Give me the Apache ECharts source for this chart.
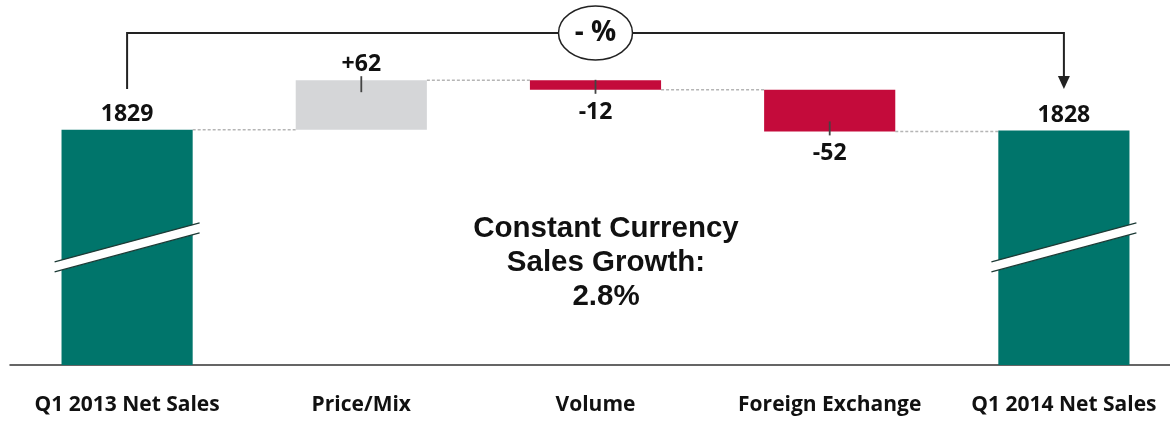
<!DOCTYPE html>
<html><head><meta charset="utf-8">
<script src="https://cdn.jsdelivr.net/npm/echarts@6/dist/echarts.min.js"></script>
<style>html,body{margin:0;padding:0;background:#fff}#c{width:1170px;height:421px}</style>
</head><body><div id="c"></div>
<script>
// ---- data ----
const categories = ['Q1 2013 Net Sales', 'Price/Mix', 'Volume', 'Foreign Exchange', 'Q1 2014 Net Sales'];
const values = [1829, 62, -12, -52, 1828];
const isTotal = [true, false, false, false, true];
const valueLabels = ['1829', '+62', '-12', '-52', '1828'];
const bracketLabel = '- %';
const centerLines = ['Constant Currency', 'Sales Growth:', '2.8%'];

// ---- styles ----
const TEAL = '#00756B', GRAY = '#D5D6D8', RED = '#C40B3B';
const Y_MIN = 1535, Y_MAX = 1900, BREAK_AT = 1682;
const FONT = '"Open Sans", Lato, sans-serif';

// waterfall layout derived from data
const bases = [], heights = [], levels = [];
let running = 0;
values.forEach((v, i) => {
  if (isTotal[i]) { bases.push(Y_MIN); heights.push(v - Y_MIN); running = v; }
  else if (v >= 0) { bases.push(running); heights.push(v); running += v; }
  else { bases.push(running + v); heights.push(-v); running += v; }
  levels.push(running);
});

const colors = values.map((v, i) => isTotal[i] ? TEAL : (v >= 0 ? GRAY : RED));

const chart = echarts.init(document.getElementById('c'), null, {renderer: 'canvas'});
const GRID_TOP = 73;

chart.setOption({
  animation: false,
  grid: {left: 10, width: 1171, top: GRID_TOP, bottom: 56, containLabel: false, outerBoundsMode: 'none'},
  xAxis: {
    type: 'category', data: categories,
    axisLine: {lineStyle: {color: '#333', width: 1.5}},
    axisTick: {show: false},
    axisLabel: {color: '#111', fontFamily: FONT, fontWeight: 'bold', fontSize: 21, margin: 30, interval: 0}
  },
  yAxis: {type: 'value', min: Y_MIN, max: Y_MAX, show: false, splitLine: {show: false}},
  series: [
    {
      type: 'bar', stack: 'w', barWidth: '56%', silent: true,
      itemStyle: {color: 'transparent'},
      data: bases
    },
    {
      type: 'bar', stack: 'w', barWidth: '56%',
      data: heights.map((h, i) => ({
        value: h,
        itemStyle: {color: colors[i]},
        label: {
          show: true,
          formatter: valueLabels[i],
          position: (values[i] < 0) ? 'bottom' : 'top',
          distance: (values[i] < 0) ? 11 : 4,
          color: '#111', fontFamily: FONT, fontWeight: 'bold', fontSize: 23
        }
      }))
    },
    // dotted connectors between bars
    {
      type: 'custom', silent: true, z: 1,
      data: levels.slice(0, -1).map((lv, i) => [i, lv]),
      renderItem: function (params, api) {
        const i = api.value(0), lv = api.value(1);
        const p0 = api.coord([i, lv]), p1 = api.coord([i + 1, lv]);
        const half = api.size([1, 0])[0] * 0.28;
        return {type: 'line', shape: {x1: p0[0] + half, y1: p0[1], x2: p1[0] - half, y2: p1[1]},
          style: {stroke: '#b5b5b5', lineWidth: 1.5, lineDash: [3, 2]}};
      }
    },
    // small leader ticks at the labelled edge of change bars
    {
      type: 'custom', silent: true, z: 5,
      data: values.map((v, i) => isTotal[i] ? null : [i, v >= 0 ? bases[i] + heights[i] : bases[i], v >= 0 ? 1 : -1]).filter(d => d),
      renderItem: function (params, api) {
        const p = api.coord([api.value(0), api.value(1)]);
        const up = api.value(2) > 0;
        const a = up ? -4 : 4, b = up ? 12 : -10;
        return {type: 'line', shape: {x1: p[0], y1: p[1] + a, x2: p[0], y2: p[1] + b},
          style: {stroke: '#444', lineWidth: 1.8}};
      }
    },
    // axis-break marks on the total bars
    {
      type: 'custom', silent: true, z: 6, clip: false,
      data: values.map((v, i) => isTotal[i] ? [i, BREAK_AT] : null).filter(d => d),
      renderItem: function (params, api) {
        const c = api.coord([api.value(0), api.value(1)]);
        const dx = 72.5, dy = 19.5, g = 5;
        return {type: 'group', children: [
          {type: 'polygon', shape: {points: [[c[0] - dx, c[1] + dy - g], [c[0] + dx, c[1] - dy - g], [c[0] + dx, c[1] - dy + g], [c[0] - dx, c[1] + dy + g]]},
            style: {fill: '#fff'}},
          {type: 'line', shape: {x1: c[0] - dx, y1: c[1] + dy - g, x2: c[0] + dx, y2: c[1] - dy - g}, style: {stroke: '#1d3b36', lineWidth: 1.3}},
          {type: 'line', shape: {x1: c[0] - dx, y1: c[1] + dy + g, x2: c[0] + dx, y2: c[1] - dy + g}, style: {stroke: '#1d3b36', lineWidth: 1.3}}
        ]};
      }
    },
    // bracket from first total to last total with ellipse label
    {
      type: 'custom', silent: true, z: 7, clip: false,
      data: [[0, categories.length - 1]],
      renderItem: function (params, api) {
        const x0 = api.coord([api.value(0), Y_MAX])[0];
        const x1 = api.coord([api.value(1), Y_MAX])[0];
        const xm = (x0 + x1) / 2;
        const yTop = GRID_TOP - 40, yEnd = GRID_TOP + 16;
        return {type: 'group', children: [
          {type: 'polyline', shape: {points: [[x0, yEnd], [x0, yTop], [x1, yTop], [x1, yEnd - 12]]},
            style: {stroke: '#222', lineWidth: 2, fill: null}},
          {type: 'polygon', shape: {points: [[x1 - 6, yEnd - 13], [x1 + 6, yEnd - 13], [x1, yEnd]]}, style: {fill: '#222'}},
          {type: 'ellipse', shape: {cx: xm, cy: yTop, rx: 37, ry: 27}, style: {fill: '#fff', stroke: '#222', lineWidth: 1.5}},
          {type: 'text', x: xm, y: yTop, style: {text: bracketLabel, fill: '#111', font: 'bold 28px ' + FONT, align: 'center', verticalAlign: 'middle'}}
        ]};
      }
    }
  ],
  graphic: [{
    type: 'text', x: 606, y: 263, silent: true,
    style: {text: centerLines.join('\n'), fill: '#111', font: 'bold 29.5px "Liberation Sans", Arial, sans-serif',
      lineHeight: 34, align: 'center', verticalAlign: 'middle'}
  }]
});
</script></body></html>
